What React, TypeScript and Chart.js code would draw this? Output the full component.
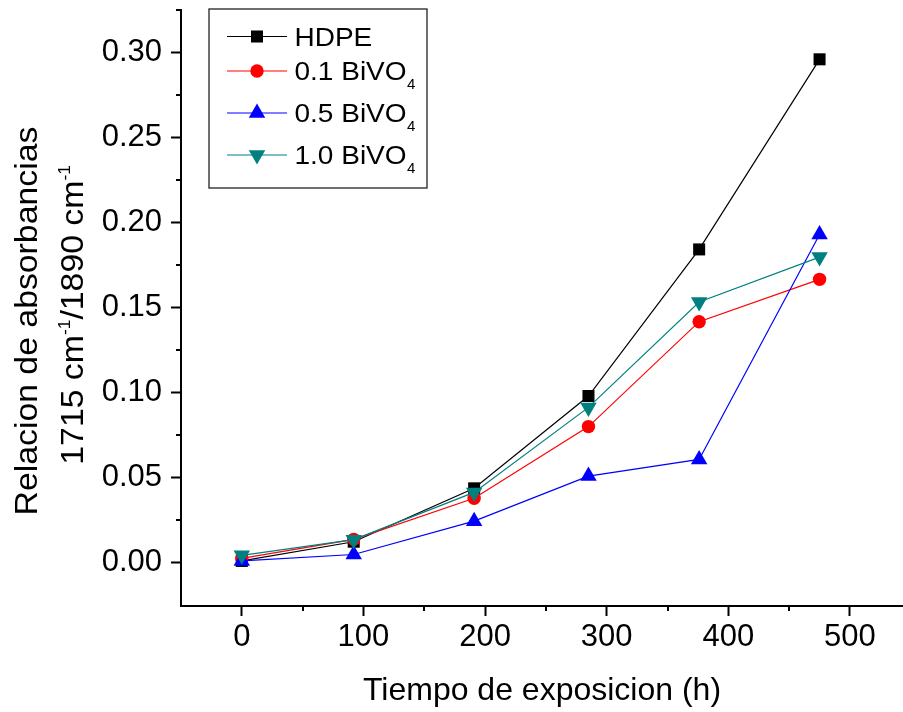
import React, { useEffect, useRef } from 'react';
import { Chart, registerables } from 'chart.js';
import { drawPoint } from 'chart.js/helpers';

Chart.register(...registerables);

const FONT = "'Liberation Sans', Arial, Helvetica, sans-serif";

const seriesNames = ['HDPE', '0.1 BiVO', '0.5 BiVO', '1.0 BiVO'];
const seriesSubscripts = ['', '4', '4', '4'];
const seriesColors = ['#000000', '#FF0000', '#0000FF', '#008080'];
const seriesPointStyles = ['rect', 'circle', 'triangle', 'triangle'];
const seriesPointRadius = [8.5, 6.7, 9.5, 9.5];
const seriesPointRotation = [0, 0, 0, 180];

const timeHours = [0, 92, 191, 285, 376, 475];
const hdpe = [0.001, 0.0123, 0.0437, 0.098, 0.1842, 0.296];
const bivo01 = [0.0025, 0.0137, 0.0379, 0.080, 0.1417, 0.1666];
const bivo05 = [0.001, 0.0048, 0.0244, 0.0509, 0.0607, 0.193];
const bivo10 = [0.0043, 0.0135, 0.0413, 0.0913, 0.1533, 0.1797];
const seriesValues = [hdpe, bivo01, bivo05, bivo10];

const xMajorTicks = [0, 100, 200, 300, 400, 500];
const xMinorTicks = [50, 150, 250, 350, 450];
const yMajorTicks = [0, 0.05, 0.1, 0.15, 0.2, 0.25, 0.3];
const yMinorTicks = [0.025, 0.075, 0.125, 0.175, 0.225, 0.275, 0.325];

const xTitle = 'Tiempo de exposicion (h)';
const yTitleLine1 = 'Relacion de absorbancias';
const yTitleLine2 = [
  { t: '1715 cm', sup: false },
  { t: '-1', sup: true },
  { t: '/1890 cm', sup: false },
  { t: '-1', sup: true },
];

const minorTicksPlugin = {
  id: 'minorTicks',
  afterDraw(chart: any) {
    const ctx = chart.ctx;
    const xs = chart.scales.x;
    const ys = chart.scales.y;
    const area = chart.chartArea;
    ctx.save();
    ctx.strokeStyle = '#000';
    ctx.lineWidth = 2;
    ctx.beginPath();
    xMinorTicks.forEach((v) => {
      const px = Math.round(xs.getPixelForValue(v));
      ctx.moveTo(px, area.bottom);
      ctx.lineTo(px, area.bottom + 5);
    });
    yMinorTicks.forEach((v) => {
      const py = Math.round(ys.getPixelForValue(v));
      ctx.moveTo(area.left, py);
      ctx.lineTo(area.left - 5, py);
    });
    ctx.stroke();
    ctx.restore();
  },
};

function stretchedText(ctx: CanvasRenderingContext2D, text: string, x: number, y: number, s: number) {
  ctx.save();
  ctx.translate(x, y);
  ctx.scale(s, 1);
  ctx.fillText(text, 0, 0);
  ctx.restore();
  return ctx.measureText(text).width * s;
}

const legendPlugin = {
  id: 'customLegend',
  afterDraw(chart: any) {
    const ctx: CanvasRenderingContext2D = chart.ctx;
    ctx.save();
    ctx.fillStyle = '#fff';
    ctx.fillRect(209, 9, 218, 179);
    ctx.strokeStyle = '#222';
    ctx.lineWidth = 1.3;
    ctx.strokeRect(209, 9, 218, 179);
    const baselines = [45.5, 80, 122, 164];
    seriesNames.forEach((name, i) => {
      const by = baselines[i];
      const my = by - 9;
      ctx.strokeStyle = seriesColors[i];
      ctx.lineWidth = 1.2;
      ctx.beginPath();
      ctx.moveTo(227, my);
      ctx.lineTo(287, my);
      ctx.stroke();
      ctx.fillStyle = seriesColors[i];
      drawPoint(ctx, {
        pointStyle: seriesPointStyles[i],
        radius: seriesPointRadius[i],
        rotation: seriesPointRotation[i],
        borderWidth: 0,
      } as any, 257, my);
      ctx.fillStyle = '#000';
      ctx.textBaseline = 'alphabetic';
      ctx.textAlign = 'left';
      ctx.font = `25px ${FONT}`;
      const w = stretchedText(ctx, name, 294.5, by, 1.12);
      if (seriesSubscripts[i]) {
        ctx.font = `15px ${FONT}`;
        ctx.fillText(seriesSubscripts[i], 294.5 + w + 0.5, by + 9);
      }
    });
    ctx.restore();
  },
};

const yTitlePlugin = {
  id: 'yTitle',
  afterDraw(chart: any) {
    const ctx: CanvasRenderingContext2D = chart.ctx;
    const s = 1.09;
    ctx.save();
    ctx.fillStyle = '#000';
    ctx.textBaseline = 'alphabetic';
    ctx.textAlign = 'left';
    ctx.save();
    ctx.translate(37.3, 515.5);
    ctx.rotate(-Math.PI / 2);
    ctx.font = `31px ${FONT}`;
    stretchedText(ctx, yTitleLine1, 0, 0, s);
    ctx.restore();
    ctx.save();
    ctx.translate(83.3, 464.7);
    ctx.rotate(-Math.PI / 2);
    let x = 0;
    yTitleLine2.forEach((seg) => {
      if (seg.sup) {
        ctx.font = `16px ${FONT}`;
        x += stretchedText(ctx, seg.t, x, -13, s);
      } else {
        ctx.font = `31px ${FONT}`;
        x += stretchedText(ctx, seg.t, x, 0, s);
      }
    });
    ctx.restore();
    ctx.restore();
  },
};

export default function App() {
  const canvasRef = useRef<HTMLCanvasElement | null>(null);

  useEffect(() => {
    document.body.style.margin = '0';
    const canvas = canvasRef.current;
    if (!canvas) return;
    const datasets = seriesNames.map((name, i) => ({
      label: name + seriesSubscripts[i],
      data: timeHours.map((t, j) => ({ x: t, y: seriesValues[i][j] })),
      borderColor: seriesColors[i],
      backgroundColor: seriesColors[i],
      borderWidth: 1.2,
      tension: 0,
      pointStyle: seriesPointStyles[i],
      pointRadius: seriesPointRadius[i],
      pointRotation: seriesPointRotation[i],
      pointBorderWidth: 0,
      pointBackgroundColor: seriesColors[i],
      pointBorderColor: seriesColors[i],
      order: 3 - i,
      clip: false,
    }));
    const chart = new Chart(canvas, {
      type: 'line',
      data: { datasets } as any,
      options: {
        animation: false,
        responsive: false,
        maintainAspectRatio: false,
        layout: { autoPadding: false, padding: { top: 10, left: 0, right: 0, bottom: 0 } },
        plugins: { legend: { display: false }, tooltip: { enabled: false } },
        scales: {
          x: {
            type: 'linear',
            min: -50,
            max: 543.6,
            afterBuildTicks: (axis: any) => {
              axis.ticks = xMajorTicks.map((v) => ({ value: v }));
            },
            afterFit: (scale: any) => {
              scale.height = 106;
              scale.paddingLeft = 0;
              scale.paddingRight = 0;
              scale.paddingTop = 0;
              scale.paddingBottom = 0;
            },
            border: { display: true, color: '#000', width: 2 },
            grid: {
              display: true,
              drawOnChartArea: false,
              drawTicks: true,
              tickLength: 10,
              tickWidth: 2,
              tickColor: '#000',
            },
            ticks: {
              color: '#000',
              font: { family: FONT, size: 31 },
              padding: 3,
              maxRotation: 0,
              autoSkip: false,
              callback: (v: any) => String(v),
            },
            title: {
              display: true,
              text: xTitle,
              color: '#000',
              font: { family: FONT, size: 32 },
              padding: { top: 0, bottom: 2 },
            },
          },
          y: {
            type: 'linear',
            min: -0.0255,
            max: 0.325,
            afterBuildTicks: (axis: any) => {
              axis.ticks = yMajorTicks.map((v) => ({ value: v }));
            },
            afterFit: (scale: any) => {
              scale.width = 181;
              scale.paddingLeft = 0;
              scale.paddingRight = 0;
              scale.paddingTop = 0;
              scale.paddingBottom = 0;
            },
            border: { display: true, color: '#000', width: 2 },
            grid: {
              display: true,
              drawOnChartArea: false,
              drawTicks: true,
              tickLength: 10,
              tickWidth: 2,
              tickColor: '#000',
            },
            ticks: {
              color: '#000',
              font: { family: FONT, size: 31 },
              padding: 9,
              autoSkip: false,
              callback: (v: any) => Number(v).toFixed(2),
            },
          },
        },
      } as any,
      plugins: [minorTicksPlugin, legendPlugin, yTitlePlugin],
    });
    return () => chart.destroy();
  }, []);

  return (
    <canvas
      ref={canvasRef}
      width={903}
      height={712}
      style={{ display: 'block', width: '903px', height: '712px' }}
    />
  );
}
